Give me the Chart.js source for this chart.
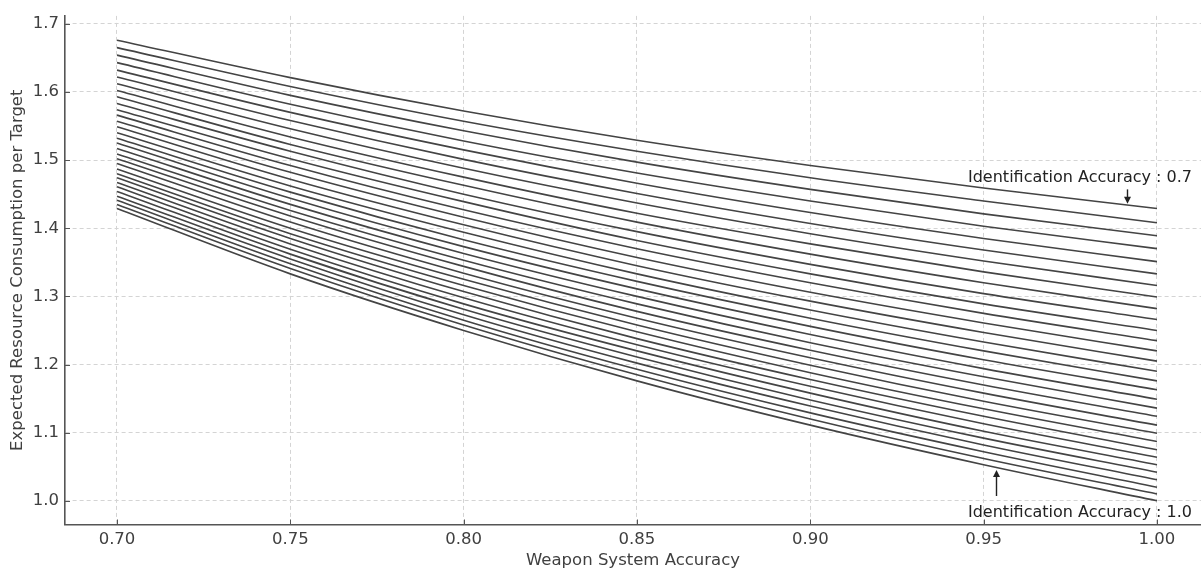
<!DOCTYPE html>
<html>
<head>
<meta charset="utf-8">
<script src="https://cdn.jsdelivr.net/npm/chart.js@4/dist/chart.umd.min.js"></script>
<style>
  html, body { margin: 0; padding: 0; background: #fff; overflow: hidden; }
  #wrap { width: 1201px; height: 570px; }
</style>
</head>
<body>
<div id="wrap"><canvas id="chart"></canvas></div>
<script>
// x values (weapon system accuracy) and tick labels
const weaponAcc = [0.70, 0.75, 0.80, 0.85, 0.90, 0.95, 1.00];
const xTicks = [0.70, 0.75, 0.80, 0.85, 0.90, 0.95, 1.00];
const yTicks = [1.0, 1.1, 1.2, 1.3, 1.4, 1.5, 1.6, 1.7];

// one curve per identification accuracy
const idAcc = [0.70, 0.71, 0.72, 0.73, 0.74, 0.75, 0.76, 0.77, 0.78, 0.79, 0.80,
               0.81, 0.82, 0.83, 0.84, 0.85, 0.86, 0.87, 0.88, 0.89, 0.90,
               0.91, 0.92, 0.93, 0.94, 0.95, 0.96, 0.97, 0.98, 0.99, 1.00];

const ia070 = [1.676, 1.621, 1.572, 1.529, 1.492, 1.459, 1.429];
const ia071 = [1.665, 1.608, 1.557, 1.513, 1.474, 1.440, 1.408];
const ia072 = [1.654, 1.595, 1.543, 1.497, 1.457, 1.421, 1.389];
const ia073 = [1.643, 1.582, 1.528, 1.481, 1.440, 1.403, 1.370];
const ia074 = [1.632, 1.570, 1.515, 1.466, 1.423, 1.385, 1.351];
const ia075 = [1.622, 1.558, 1.501, 1.451, 1.407, 1.368, 1.333];
const ia076 = [1.612, 1.546, 1.488, 1.437, 1.392, 1.352, 1.316];
const ia077 = [1.602, 1.534, 1.475, 1.422, 1.377, 1.336, 1.299];
const ia078 = [1.593, 1.523, 1.463, 1.409, 1.362, 1.320, 1.282];
const ia079 = [1.583, 1.513, 1.450, 1.395, 1.347, 1.304, 1.266];
const ia080 = [1.574, 1.502, 1.439, 1.382, 1.333, 1.289, 1.250];
const ia081 = [1.566, 1.492, 1.427, 1.370, 1.320, 1.275, 1.235];
const ia082 = [1.557, 1.482, 1.416, 1.357, 1.306, 1.261, 1.220];
const ia083 = [1.549, 1.472, 1.405, 1.345, 1.293, 1.247, 1.205];
const ia084 = [1.540, 1.462, 1.394, 1.333, 1.280, 1.233, 1.190];
const ia085 = [1.532, 1.453, 1.383, 1.322, 1.268, 1.220, 1.176];
const ia086 = [1.525, 1.444, 1.373, 1.311, 1.256, 1.207, 1.163];
const ia087 = [1.517, 1.435, 1.363, 1.300, 1.244, 1.194, 1.149];
const ia088 = [1.509, 1.426, 1.353, 1.289, 1.232, 1.182, 1.136];
const ia089 = [1.502, 1.418, 1.344, 1.278, 1.221, 1.170, 1.124];
const ia090 = [1.495, 1.409, 1.334, 1.268, 1.210, 1.158, 1.111];
const ia091 = [1.487, 1.400, 1.325, 1.258, 1.199, 1.146, 1.099];
const ia092 = [1.480, 1.392, 1.316, 1.248, 1.188, 1.135, 1.087];
const ia093 = [1.474, 1.385, 1.307, 1.238, 1.178, 1.124, 1.075];
const ia094 = [1.467, 1.377, 1.298, 1.229, 1.168, 1.113, 1.064];
const ia095 = [1.461, 1.369, 1.289, 1.220, 1.158, 1.102, 1.053];
const ia096 = [1.454, 1.362, 1.281, 1.211, 1.148, 1.092, 1.042];
const ia097 = [1.447, 1.355, 1.273, 1.202, 1.139, 1.082, 1.031];
const ia098 = [1.441, 1.348, 1.265, 1.193, 1.129, 1.072, 1.020];
const ia099 = [1.435, 1.341, 1.258, 1.185, 1.120, 1.062, 1.010];
const ia100 = [1.429, 1.333, 1.250, 1.176, 1.111, 1.053, 1.000];

const seriesValues = [ia070, ia071, ia072, ia073, ia074, ia075, ia076, ia077, ia078, ia079, ia080,
                      ia081, ia082, ia083, ia084, ia085, ia086, ia087, ia088, ia089, ia090,
                      ia091, ia092, ia093, ia094, ia095, ia096, ia097, ia098, ia099, ia100];

const FONT = 'DejaVu Sans';
const TEXT = '#404040';

const datasets = seriesValues.map((vals, k) => ({
    label: 'Identification Accuracy ' + idAcc[k].toFixed(2),
    data: weaponAcc.map((x, j) => ({ x: x, y: vals[j] })),
    borderColor: '#444',
    borderWidth: 1.6,
    pointRadius: 0,
    fill: false,
    cubicInterpolationMode: 'monotone'
}));

// small inward tick marks like the original
const innerTicks = {
    id: 'innerTicks',
    afterDraw(chart) {
        const ctx = chart.ctx;
        const xs = chart.scales.x, ys = chart.scales.y;
        ctx.save();
        ctx.strokeStyle = '#555';
        ctx.lineWidth = 1;
        xTicks.forEach(v => {
            const px = Math.round(xs.getPixelForValue(v)) + 0.5;
            ctx.beginPath();
            ctx.moveTo(px, ys.bottom);
            ctx.lineTo(px, ys.bottom - 5);
            ctx.stroke();
        });
        yTicks.forEach(v => {
            const py = Math.round(ys.getPixelForValue(v)) + 0.5;
            ctx.beginPath();
            ctx.moveTo(xs.left, py);
            ctx.lineTo(xs.left + 5, py);
            ctx.stroke();
        });
        ctx.restore();
    }
};

function arrow(ctx, x, y0, y1) {
    const dir = y1 > y0 ? 1 : -1;
    ctx.beginPath();
    ctx.moveTo(x, y0);
    ctx.lineTo(x, y1 - dir * 6);
    ctx.stroke();
    ctx.beginPath();
    ctx.moveTo(x, y1);
    ctx.lineTo(x - 3.5, y1 - dir * 7);
    ctx.lineTo(x + 3.5, y1 - dir * 7);
    ctx.closePath();
    ctx.fill();
}

// the two "Identification Accuracy" notes with arrows
const notes = {
    id: 'notes',
    afterDraw(chart) {
        const ctx = chart.ctx;
        const xs = chart.scales.x, ys = chart.scales.y;
        ctx.save();
        ctx.fillStyle = '#222';
        ctx.strokeStyle = '#222';
        ctx.lineWidth = 1.4;
        ctx.font = '16px "' + FONT + '"';
        ctx.textAlign = 'center';
        ctx.textBaseline = 'middle';
        ctx.fillText('Identification Accuracy : 0.7', xs.getPixelForValue(0.9778), ys.getPixelForValue(1.474));
        arrow(ctx, Math.round(xs.getPixelForValue(0.9913)) + 0.5, ys.getPixelForValue(1.457), ys.getPixelForValue(1.436));
        ctx.fillText('Identification Accuracy : 1.0', xs.getPixelForValue(0.9778), ys.getPixelForValue(0.9826));
        arrow(ctx, Math.round(xs.getPixelForValue(0.9536)) + 0.5, ys.getPixelForValue(1.007), ys.getPixelForValue(1.045));
        ctx.restore();
    }
};

new Chart(document.getElementById('chart'), {
    type: 'line',
    data: { datasets },
    plugins: [innerTicks, notes],
    options: {
        responsive: true,
        maintainAspectRatio: false,
        animation: false,
        layout: { padding: { top: 10, right: 0, bottom: 0, left: 0 } },
        plugins: {
            legend: { display: false },
            tooltip: { enabled: false }
        },
        scales: {
            x: {
                type: 'linear',
                min: 0.685,
                max: 1.0127,
                afterBuildTicks: s => { s.ticks = xTicks.map(v => ({ value: v })); },
                afterFit: s => { s.height = 45.5; },
                ticks: {
                    padding: 5,
                    color: TEXT,
                    font: { family: FONT, size: 16.5 },
                    callback: v => Number(v).toFixed(2),
                    maxRotation: 0
                },
                grid: { color: '#d4d4d4', lineWidth: 1, drawTicks: false },
                border: { color: '#555', width: 1.6, dash: [4, 3] },
                title: {
                    display: true,
                    text: 'Weapon System Accuracy',
                    color: TEXT,
                    font: { family: FONT, size: 16.5, lineHeight: 1 },
                    padding: { top: 0, bottom: 1 }
                }
            },
            y: {
                type: 'linear',
                min: 0.9652,
                max: 1.7116,
                afterBuildTicks: s => { s.ticks = yTicks.map(v => ({ value: v })); },
                afterFit: s => { s.width = 65; },
                ticks: {
                    padding: 6,
                    color: TEXT,
                    font: { family: FONT, size: 16.5 },
                    callback: v => Number(v).toFixed(1)
                },
                grid: { color: '#d4d4d4', lineWidth: 1, drawTicks: false },
                border: { color: '#555', width: 1.6, dash: [4, 3] },
                title: {
                    display: true,
                    text: 'Expected Resource Consumption per Target',
                    color: TEXT,
                    font: { family: FONT, size: 16.5, lineHeight: 1 },
                    padding: { top: 9, bottom: 0 }
                }
            }
        }
    }
});
</script>
</body>
</html>
